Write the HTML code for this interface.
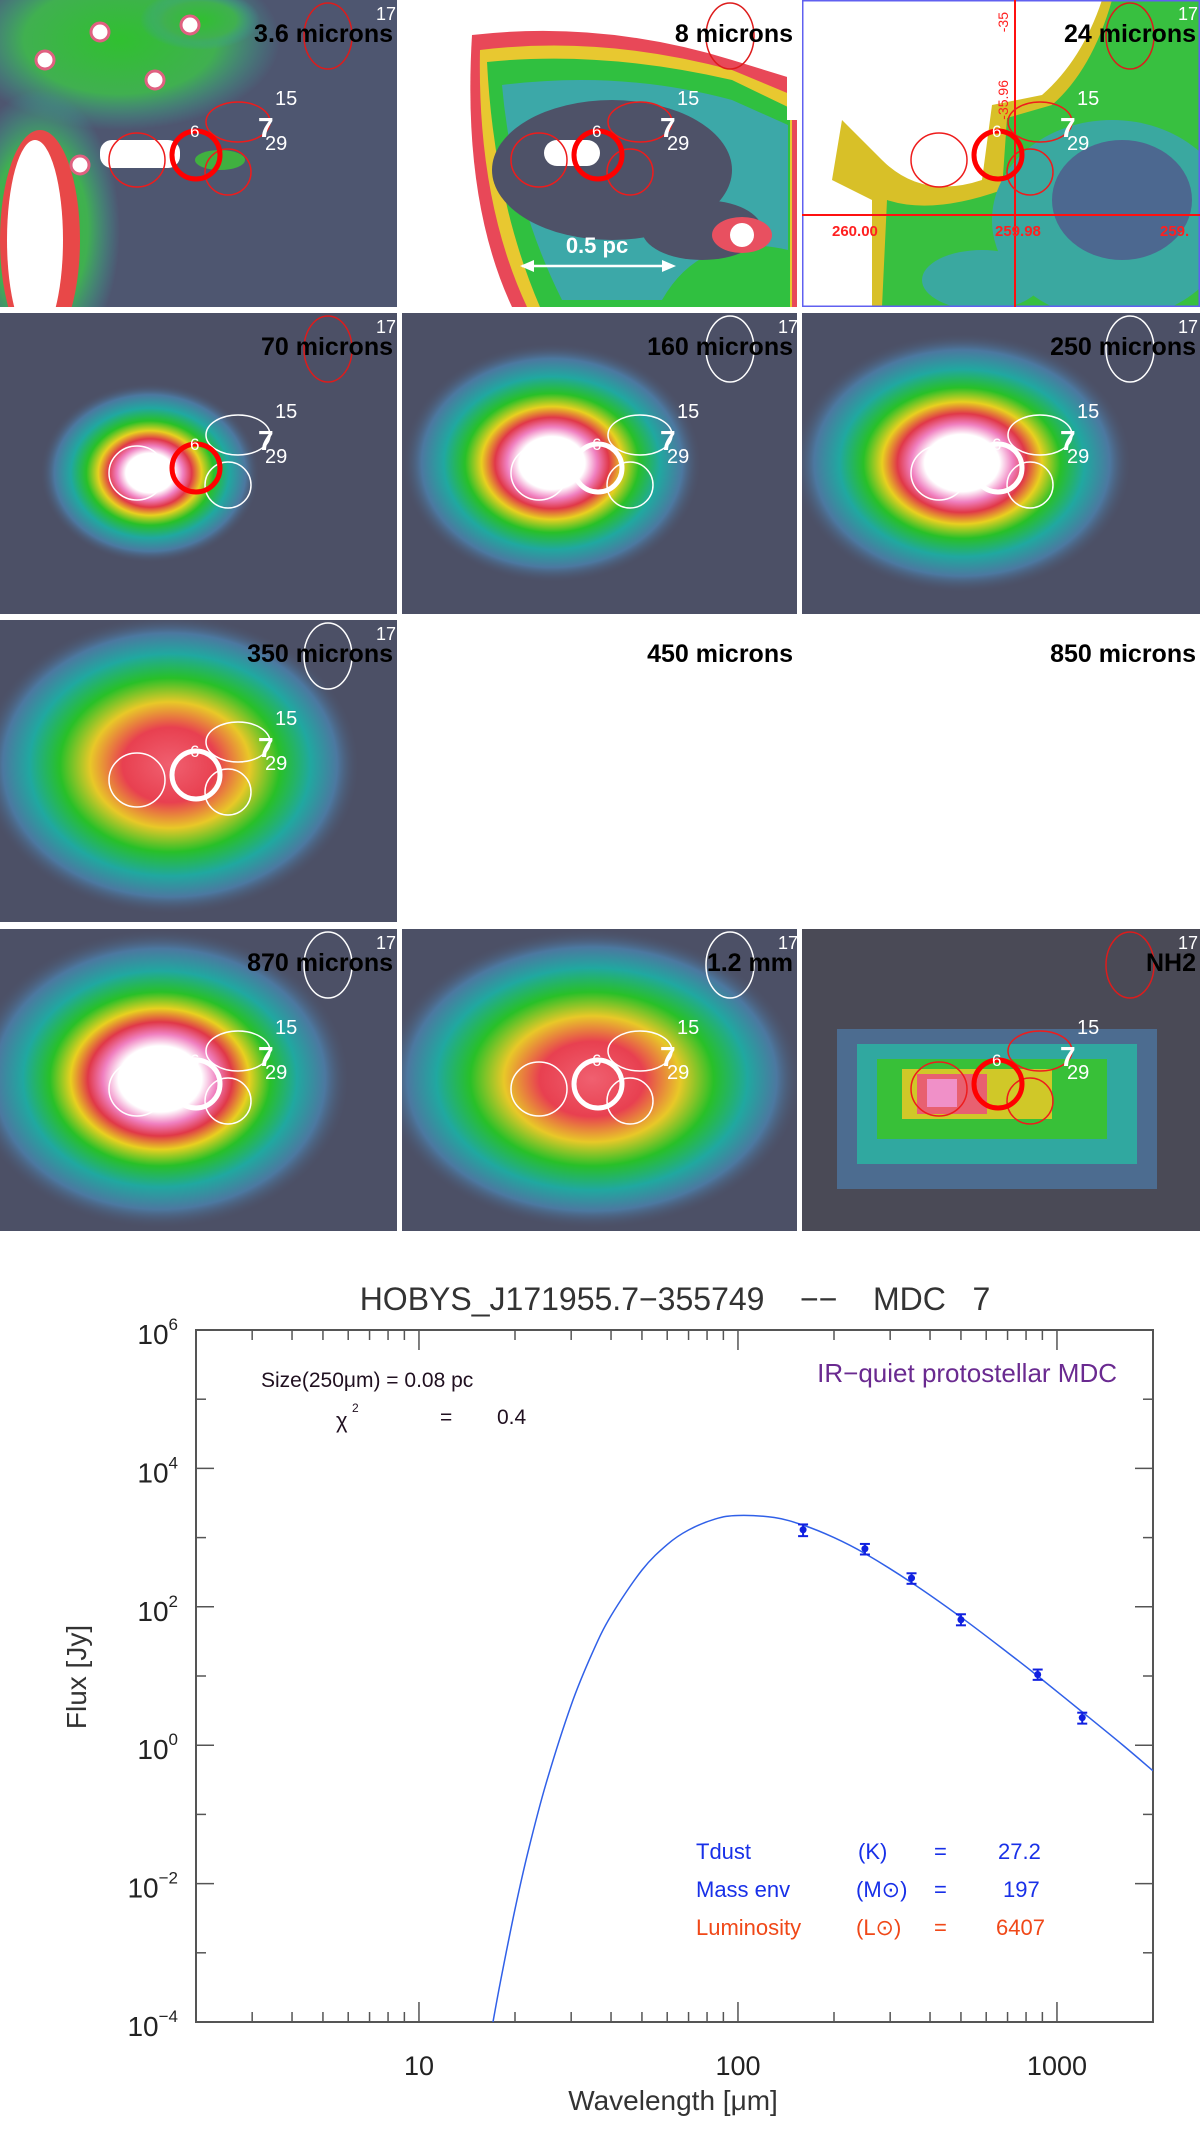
<!DOCTYPE html>
<html><head><meta charset="utf-8"><title>HOBYS MDC 7</title>
<style>
html,body{margin:0;padding:0;background:#fff;}
svg{display:block;}
text{font-family:"Liberation Sans",sans-serif;white-space:pre;}
</style></head>
<body>
<svg id="fig" width="1200" height="2133" viewBox="0 0 1200 2133" xmlns="http://www.w3.org/2000/svg">
<defs>
 <radialGradient id="heat" cx="0.5" cy="0.5" r="0.5">
  <stop offset="0" stop-color="#ffffff"/>
  <stop offset="0.22" stop-color="#ffffff"/>
  <stop offset="0.3" stop-color="#f080c0"/>
  <stop offset="0.38" stop-color="#e03848"/>
  <stop offset="0.47" stop-color="#e8d020"/>
  <stop offset="0.58" stop-color="#28c028"/>
  <stop offset="0.72" stop-color="#20a8a0"/>
  <stop offset="0.87" stop-color="#4c78a0"/>
  <stop offset="1" stop-color="#4c5066" stop-opacity="0"/>
 </radialGradient>
 <radialGradient id="warm" cx="0.5" cy="0.5" r="0.5">
  <stop offset="0" stop-color="#f06070"/>
  <stop offset="0.25" stop-color="#e84050"/>
  <stop offset="0.42" stop-color="#e8c828"/>
  <stop offset="0.58" stop-color="#28c028"/>
  <stop offset="0.74" stop-color="#20a8a0"/>
  <stop offset="0.88" stop-color="#4c78a0"/>
  <stop offset="1" stop-color="#4c5066" stop-opacity="0"/>
 </radialGradient>
 <radialGradient id="green" cx="0.5" cy="0.5" r="0.5">
  <stop offset="0" stop-color="#30c030"/>
  <stop offset="0.6" stop-color="#40b050"/>
  <stop offset="1" stop-color="#3aa0a0" stop-opacity="0"/>
 </radialGradient>
 <clipPath id="plotclip"><rect x="196" y="1330" width="957" height="692"/></clipPath>
</defs>
<g id="panels"></g>
<g id="chart"></g>
</svg>
<script>
const NS="http://www.w3.org/2000/svg";
function mk(parent,tag,attrs,txt){const e=document.createElementNS(NS,tag);for(const k in attrs)e.setAttribute(k,attrs[k]);if(txt!==undefined)e.textContent=txt;parent.appendChild(e);return e;}

/* ---------- image panels ---------- */
const colX=[0,402,802], rowY=[0,313,620,929], PW=[397,395,398], PH=[307,301,302,302];
const panelLabels=["3.6 microns","8 microns","24 microns","70 microns","160 microns","250 microns","350 microns","450 microns","850 microns","870 microns","1.2 mm","NH2"];
const panelKinds=["ir36","ir8","ir24","h70","h160","h250","h350","blank","blank","h870","h12","nh2"];
const P=document.getElementById('panels');
panelLabels.forEach((lab,i)=>{
 const c=i%3,r=Math.floor(i/3),x=colX[c],y=rowY[r],w=PW[c],h=PH[r],kind=panelKinds[i];
 const g=mk(P,'g',{transform:`translate(${x},${y})`});
 
 
 const cp=mk(g,'clipPath',{id:'cp'+i});mk(cp,'rect',{x:0,y:0,width:w,height:h});
 const b=mk(g,'g',{'clip-path':`url(#cp${i})`});
 if(kind==='blank'){}
 else if(kind==='ir36'){
  mk(b,'rect',{x:0,y:0,width:w,height:h,fill:'#4e5670'});
  mk(b,'ellipse',{cx:120,cy:40,rx:160,ry:90,fill:'url(#green)'});
  mk(b,'ellipse',{cx:40,cy:230,rx:80,ry:140,fill:'url(#green)'});
  mk(b,'ellipse',{cx:200,cy:20,rx:60,ry:30,fill:'url(#green)'});
  mk(b,'ellipse',{cx:40,cy:240,rx:40,ry:110,fill:'#e84848'});
  mk(b,'ellipse',{cx:35,cy:240,rx:28,ry:100,fill:'#ffffff'});
  mk(b,'rect',{x:100,y:140,width:80,height:28,rx:12,fill:'#ffffff'});
  [[45,60],[100,32],[190,25],[155,80],[80,165]].forEach(p=>mk(b,'circle',{cx:p[0],cy:p[1],r:9,fill:'#fff',stroke:'#e06080','stroke-width':3}));
  mk(b,'ellipse',{cx:220,cy:160,rx:25,ry:10,fill:'#40b040'});
 } else if(kind==='ir8'){
  mk(b,'rect',{x:0,y:0,width:w,height:h,fill:'#ffffff'});
  mk(b,'path',{d:'M70 35 Q200 20 330 60 L395 80 L395 307 L110 307 Q60 200 70 35Z',fill:'#e84858'});
  mk(b,'path',{d:'M78 50 Q200 35 330 70 L390 95 L390 307 L125 307 Q75 200 78 50Z',fill:'#e8c830'});
  mk(b,'path',{d:'M85 62 Q200 50 330 80 L388 108 L388 307 L138 307 Q92 200 85 62Z',fill:'#30c040'});
  mk(b,'path',{d:'M100 85 Q220 70 330 100 L386 125 L386 250 Q300 230 260 300 L160 300 Q110 200 100 85Z',fill:'#3ca8a8'});
  mk(b,'ellipse',{cx:210,cy:170,rx:120,ry:70,fill:'#4e5268'});
  mk(b,'ellipse',{cx:300,cy:230,rx:60,ry:30,fill:'#4e5268'});
  mk(b,'rect',{x:142,y:140,width:56,height:26,rx:13,fill:'#fff'});
  mk(b,'ellipse',{cx:340,cy:235,rx:30,ry:18,fill:'#e85060'});
  mk(b,'circle',{cx:340,cy:235,r:12,fill:'#fff'});
  mk(b,'rect',{x:385,y:40,width:12,height:80,fill:'#fff'});
 } else if(kind==='ir24'){
  mk(b,'rect',{x:0,y:0,width:w,height:h,fill:'#ffffff'});
  mk(b,'path',{d:'M398 0 L300 0 Q280 60 240 95 L190 105 L180 180 Q120 200 80 160 L40 120 L30 180 L70 200 L70 307 L398 307Z',fill:'#d8c028'});
  mk(b,'path',{d:'M398 0 L310 0 Q290 70 250 105 L205 118 L200 190 Q130 215 85 200 L80 307 L398 307Z',fill:'#38c040'});
  mk(b,'ellipse',{cx:310,cy:220,rx:120,ry:100,fill:'#3aa8a0'});
  mk(b,'ellipse',{cx:320,cy:200,rx:70,ry:60,fill:'#4c6890'});
  mk(b,'ellipse',{cx:180,cy:280,rx:60,ry:30,fill:'#3aa8a0'});
  mk(b,'rect',{x:0,y:0,width:w,height:h,fill:'none',stroke:'#6060f0','stroke-width':3});
  mk(b,'line',{x1:0,y1:215,x2:w,y2:215,stroke:'#ff1010','stroke-width':2});
  mk(b,'line',{x1:213,y1:0,x2:213,y2:h,stroke:'#ff1010','stroke-width':2});
  mk(b,'text',{x:30,y:236,fill:'#ff2020','font-size':15,'font-weight':'bold'},'260.00');
  mk(b,'text',{x:193,y:236,fill:'#ff2020','font-size':15,'font-weight':'bold'},'259.98');
  mk(b,'text',{x:358,y:236,fill:'#ff2020','font-size':15,'font-weight':'bold'},'259.');
  mk(b,'text',{x:206,y:12,fill:'#ff2020','font-size':14,transform:'rotate(-90 206 12)','text-anchor':'end'},'-35');
  mk(b,'text',{x:206,y:80,fill:'#ff2020','font-size':14,transform:'rotate(-90 206 80)','text-anchor':'end'},'-35.96');
 } else if(kind==='nh2'){
  mk(b,'rect',{x:0,y:0,width:w,height:h,fill:'#4a4a56'});
  mk(b,'rect',{x:35,y:100,width:320,height:160,fill:'#4c6c90'});
  mk(b,'rect',{x:55,y:115,width:280,height:120,fill:'#30a8a0'});
  mk(b,'rect',{x:75,y:130,width:230,height:80,fill:'#38c038'});
  mk(b,'rect',{x:100,y:140,width:150,height:50,fill:'#d0c828'});
  mk(b,'rect',{x:115,y:145,width:70,height:40,fill:'#e86070'});
  mk(b,'rect',{x:125,y:150,width:30,height:28,fill:'#f090c8'});
 } else {
  mk(b,'rect',{x:0,y:0,width:w,height:h,fill:'#4c5066'});
  const cfg={h70:[150,160,110,90,'heat'],h160:[150,150,150,120,'heat'],h250:[160,150,170,130,'heat'],h350:[170,145,190,150,'warm'],h870:[160,150,190,150,'heat'],h12:[190,150,210,150,'warm']}[kind];
  mk(b,'ellipse',{cx:cfg[0],cy:cfg[1],rx:cfg[2],ry:cfg[3],fill:`url(#${cfg[4]})`});
 }
 if(kind!=='blank'){
  const red=(kind==='ir36'||kind==='ir8'||kind==='ir24'||kind==='nh2');
  const sc=red?'#ee1c1c':'#ffffff';
  const c17=(kind==='h70'||red)?'#dd1c1c':'#ffffff';
  mk(g,'ellipse',{cx:328,cy:36,rx:24,ry:33,fill:'none',stroke:c17,'stroke-width':1.5});
  mk(g,'ellipse',{cx:238,cy:122,rx:32,ry:20,fill:'none',stroke:sc,'stroke-width':1.5});
  mk(g,'circle',{cx:228,cy:172,r:23,fill:'none',stroke:sc,'stroke-width':1.5});
  mk(g,'ellipse',{cx:137,cy:160,rx:28,ry:27,fill:'none',stroke:sc,'stroke-width':1.5});
  mk(g,'circle',{cx:196,cy:155,r:24,fill:'none',stroke:(red||kind==='h70')?'#ff0000':'#ffffff','stroke-width':5});
  mk(g,'text',{x:376,y:20,fill:'#fff','font-size':18},'17');
  mk(g,'text',{x:275,y:105,fill:'#fff','font-size':20},'15');
  mk(g,'text',{x:258,y:137,fill:'#fff','font-size':28,'font-weight':'bold'},'7');
  mk(g,'text',{x:265,y:150,fill:'#fff','font-size':20},'29');
  mk(g,'text',{x:190,y:137,fill:'#fff','font-size':17},'6');
 }
 if(kind==='ir8'){
  mk(g,'line',{x1:120,y1:266,x2:270,y2:266,stroke:'#fff','stroke-width':2.5});
  mk(g,'path',{d:'M118 266 L132 260 L132 272Z',fill:'#fff'});
  mk(g,'path',{d:'M274 266 L260 260 L260 272Z',fill:'#fff'});
  mk(g,'text',{x:195,y:253,fill:'#fff','font-size':22,'font-weight':'bold','text-anchor':'middle','font-family':'Liberation Serif, serif'},'0.5 pc');
 }
 const t=mk(g,'text',{x:w-4,y:42,'text-anchor':'end','font-size':25,'font-weight':'bold',fill:'#000'},lab);
 
 
});

/* ---------- SED chart ---------- */
const xTickVals=[10,100,1000];
const xTickLabels=["10","100","1000"];
const yTickExps=[6,4,2,0,-2,-4];
const dataWave=[160,250,350,500,870,1200];
const dataFlux=[1300,690,260,65,10.5,2.5];
const dataErrLo=[1050,570,215,54,8.8,2.05];
const dataErrHi=[1550,810,305,78,12.4,2.95];
const modelWave=[17,18,20,22,25,30,35,40,50,60,70,85,100,130,160,200,250,350,500,700,870,1200,1600,2000];
const modelLogFlux=[-4.04,-3.42,-2.37,-1.53,-0.56,0.58,1.34,1.87,2.53,2.90,3.11,3.27,3.32,3.29,3.18,3.00,2.77,2.35,1.85,1.34,1.00,0.48,0.01,-0.37];

const L=196,R=1153,T=1330,B=2022,XMIN=Math.log10(2),XMAX=Math.log10(2000),YMIN=-4,YMAX=6;
const sx=v=>L+(Math.log10(v)-XMIN)/(XMAX-XMIN)*(R-L);
const sy=lv=>B-(lv-YMIN)/(YMAX-YMIN)*(B-T);
const C=document.getElementById('chart');
const ax='#555';
const frame=mk(C,'rect',{x:L,y:T,width:R-L,height:B-T,fill:'none',stroke:ax,'stroke-width':2});


for(let d=0;d<=3;d++){for(let m=1;m<=9;m++){const v=m*Math.pow(10,d);if(v<2||v>2000)continue;const len=(m===1)?20:10;const X=sx(v);
 mk(C,'line',{x1:X,y1:B,x2:X,y2:B-len,stroke:ax,'stroke-width':1.5});
 mk(C,'line',{x1:X,y1:T,x2:X,y2:T+len,stroke:ax,'stroke-width':1.5});}}
xTickVals.forEach((v,i)=>{const t=mk(C,'text',{x:sx(v),y:2075,'text-anchor':'middle','font-size':27,fill:'#222'},xTickLabels[i]);
 
 });
for(let e=YMIN;e<=YMAX;e++){const len=(e%2===0)?18:10;const Y=sy(e);
 mk(C,'line',{x1:L,y1:Y,x2:L+len,y2:Y,stroke:ax,'stroke-width':1.5});
 mk(C,'line',{x1:R,y1:Y,x2:R-len,y2:Y,stroke:ax,'stroke-width':1.5});}
yTickExps.forEach(e=>{const Y=sy(e);const t=mk(C,'text',{x:178,y:Y+14,'text-anchor':'end','font-size':28,fill:'#222'});
 
 
 mk(t,'tspan',{},'10');mk(t,'tspan',{dy:-14,'font-size':17},(e<0?'\u2212':'')+Math.abs(e));});
let pts=modelWave.map((w,i)=>[sx(w),sy(modelLogFlux[i])]);
let d='M'+pts[0][0]+' '+pts[0][1];
for(let i=0;i<pts.length-1;i++){const p0=pts[Math.max(i-1,0)],p1=pts[i],p2=pts[i+1],p3=pts[Math.min(i+2,pts.length-1)];
 d+=` C${p1[0]+(p2[0]-p0[0])/6} ${p1[1]+(p2[1]-p0[1])/6} ${p2[0]-(p3[0]-p1[0])/6} ${p2[1]-(p3[1]-p1[1])/6} ${p2[0]} ${p2[1]}`;}
const curve=mk(C,'path',{d:d,fill:'none',stroke:'#3060e8','stroke-width':1.5,'clip-path':'url(#plotclip)'});


dataWave.forEach((w,i)=>{const X=sx(w),Y=sy(Math.log10(dataFlux[i])),Y1=sy(Math.log10(dataErrHi[i])),Y2=sy(Math.log10(dataErrLo[i]));
 const g=mk(C,'g',{});
 
 
 mk(g,'line',{x1:X,y1:Y1,x2:X,y2:Y2,stroke:'#1020e0','stroke-width':2});
 mk(g,'line',{x1:X-5,y1:Y1,x2:X+5,y2:Y1,stroke:'#1020e0','stroke-width':2});
 mk(g,'line',{x1:X-5,y1:Y2,x2:X+5,y2:Y2,stroke:'#1020e0','stroke-width':2});
 mk(g,'circle',{cx:X,cy:Y,r:3.5,fill:'#1020e0'});});
function T2(x,y,s,txt,fill,name,extra){const t=mk(C,'text',Object.assign({x:x,y:y,'font-size':s,fill:fill},extra||{}),txt);return t;}
T2(675,1310,32,'HOBYS_J171955.7\u2212355749    \u2212\u2212    MDC   7','#333','chart-title',{'text-anchor':'middle'});
T2(261,1387,21,'Size(250\u03bcm) = 0.08 pc','#201020','size-annotation');
T2(336,1428,22,'\u03c7','#201020','chi2-symbol');
T2(352,1412,12,'2','#201020','chi2-exponent');
T2(440,1424,21,'=','#201020','chi2-equals');
T2(497,1424,21,'0.4','#201020','chi2-value');
T2(1117,1382,26,'IR\u2212quiet protostellar MDC','#6a2a90','classification-label',{'text-anchor':'end'});
T2(696,1859,22,'Tdust','#1830e8','tdust-label');T2(858,1859,22,'(K)','#1830e8','tdust-unit');T2(934,1859,22,'=','#1830e8','tdust-eq');T2(998,1859,22,'27.2','#1830e8','tdust-value');
T2(696,1897,22,'Mass env','#1830e8','mass-label');T2(856,1897,22,'(M\u2299)','#1830e8','mass-unit');T2(934,1897,22,'=','#1830e8','mass-eq');T2(1003,1897,22,'197','#1830e8','mass-value');
T2(696,1935,22,'Luminosity','#f04818','lum-label');T2(856,1935,22,'(L\u2299)','#f04818','lum-unit');T2(934,1935,22,'=','#f04818','lum-eq');T2(996,1935,22,'6407','#f04818','lum-value');
T2(673,2110,28,'Wavelength [\u03bcm]','#333','x-axis-title',{'text-anchor':'middle'});
T2(86,1677,28,'Flux [Jy]','#333','y-axis-title',{'text-anchor':'middle',transform:'rotate(-90 86 1677)'});
</script>
</body></html>
